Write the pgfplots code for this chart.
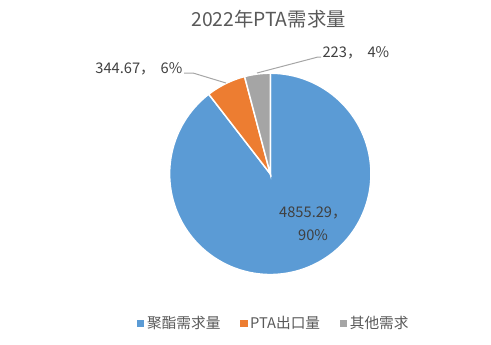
\documentclass[border=0pt]{standalone}
\usepackage{fontspec}
\setmainfont{Noto Sans CJK SC}
\usepackage{pgfplots}
\usepackage{pgfplotstable}
\pgfplotsset{compat=1.18}
\definecolor{cBlue}{HTML}{5B9BD5}
\definecolor{cOrange}{HTML}{ED7D31}
\definecolor{cGrey}{HTML}{A5A5A5}
\definecolor{cTitle}{HTML}{595959}
\definecolor{cLabel}{HTML}{404040}
\definecolor{cLeader}{HTML}{A6A6A6}

\pgfplotstableread{
idx value
0 4855.29
1 344.67
2 223
}\pietable
\pgfplotstablegetelem{0}{value}\of\pietable \let\vA\pgfplotsretval
\pgfplotstablegetelem{1}{value}\of\pietable \let\vB\pgfplotsretval
\pgfplotstablegetelem{2}{value}\of\pietable \let\vC\pgfplotsretval
\pgfmathsetmacro{\vT}{\vA+\vB+\vC}
\pgfmathsetmacro{\fA}{\vA/\vT}
\pgfmathsetmacro{\fB}{\vB/\vT}
\pgfmathsetmacro{\fC}{\vC/\vT}
\pgfmathsetmacro{\aA}{90-360*\fA}
\pgfmathsetmacro{\aB}{\aA+360-360*\fB}
\pgfmathsetmacro{\aBB}{\aA+360}
\pgfmathsetmacro{\aC}{\aB-360*\fC}

\begin{document}
\begin{tikzpicture}[x=0.75pt,y=0.75pt]
\begin{axis}[
  at={(268.5,169)}, anchor=origin,
  scale only axis, width=151pt, height=151pt,
  xmin=-1, xmax=1, ymin=-1, ymax=1,
  hide axis, clip=false,
  legend columns=-1,
  legend style={at={(0.52,-0.243)}, anchor=center, draw=none, fill=none,
    font=\fontsize{11}{13}\selectfont, text=cTitle,
    /tikz/every even column/.append style={column sep=13pt}},
]
\addplot[fill=cBlue, draw=white, line width=1.1pt, domain=\aA:90, samples=120,
  legend image code/.code={\fill[cBlue] (0pt,-2.1pt) rectangle (4.2pt,2.1pt);}]
  ({cos(x)},{sin(x)}) -- (axis cs:0,0) -- cycle;
\addlegendentry{聚酯需求量}
\addplot[fill=cOrange, draw=white, line width=1.1pt, domain=\aB:\aBB, samples=30,
  legend image code/.code={\fill[cOrange] (0pt,-2.1pt) rectangle (4.2pt,2.1pt);}]
  ({cos(x)},{sin(x)}) -- (axis cs:0,0) -- cycle;
\addlegendentry{PTA出口量}
\addplot[fill=cGrey, draw=white, line width=1.1pt, domain=\aC:\aB, samples=20,
  legend image code/.code={\fill[cGrey] (0pt,-2.1pt) rectangle (4.2pt,2.1pt);}]
  ({cos(x)},{sin(x)}) -- (axis cs:0,0) -- cycle;
\addlegendentry{其他需求}
\end{axis}
\draw[cLeader, line width=0.75pt] (184,271) -- (193,271) -- (226,261);
\draw[cLeader, line width=0.75pt] (257,271) -- (318,287) -- (321,287);
\node[anchor=center, text=cTitle, font=\fontsize{14.5}{16}\selectfont] at (268.5,325) {2022年PTA需求量};
\node[anchor=center, align=center, text=cLabel, font=\fontsize{11}{17}\selectfont] at (313,120.5) {4855.29，\\90\%};
\node[anchor=east, text=cLabel, font=\fontsize{11}{13}\selectfont, inner sep=1pt] at (184,275) {344.67，\hspace{0.4em}6\%};
\node[anchor=west, text=cLabel, font=\fontsize{11}{13}\selectfont, inner sep=1pt] at (321,291) {223，\hspace{0.4em}4\%};
\pgfresetboundingbox
\path[use as bounding box] (0,0) rectangle (491,344);
\end{tikzpicture}
\end{document}
